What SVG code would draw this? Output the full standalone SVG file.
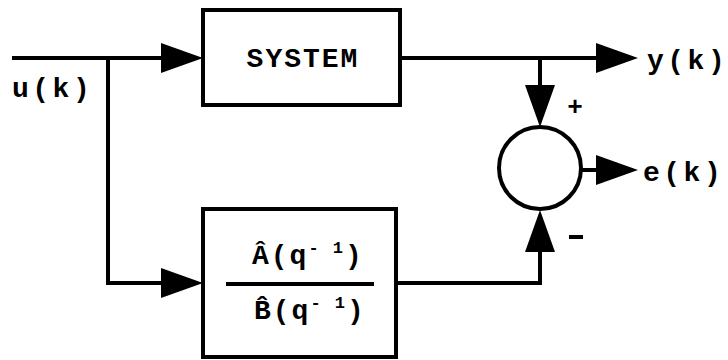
<svg xmlns="http://www.w3.org/2000/svg" width="728" height="360" viewBox="0 0 728 360">
  <style>
    .box { fill: #fff; stroke: #000; stroke-width: 4; }
    .wire { fill: none; stroke: #000; stroke-width: 4; stroke-linejoin: miter; }
    .lbl { font-family: "Liberation Mono", "DejaVu Sans Mono", monospace; font-weight: bold; font-size: 28px; letter-spacing: 2px; fill: #000; }
    .wide { letter-spacing: 3.5px; }
    .sup { font-size: 17px; }
    .sign { font-family: "Liberation Mono", "DejaVu Sans Mono", monospace; font-weight: bold; font-size: 26px; fill: #000; }
  </style>
  <defs>
    <marker id="arrow" markerUnits="userSpaceOnUse" markerWidth="42" markerHeight="30" refX="34" refY="15" orient="auto">
      <path d="M0,0 L42,15 L0,30 z" fill="#000"/>
    </marker>
  </defs>
  <rect width="728" height="360" fill="#fff"/>

  <g id="connectors">
    <!-- input u(k) into SYSTEM -->
    <path class="wire" d="M12,58 H195" marker-end="url(#arrow)"/>
    <!-- input branch into model -->
    <path class="wire" d="M108,58 V283 H195" marker-end="url(#arrow)"/>
    <!-- SYSTEM output y(k) -->
    <path class="wire" d="M400,58 H630" marker-end="url(#arrow)"/>
    <!-- y(k) into summing junction (+) -->
    <path class="wire" d="M540,58 V119" marker-end="url(#arrow)"/>
    <!-- model output into summing junction (-) -->
    <path class="wire" d="M396,283 H540 V218" marker-end="url(#arrow)"/>
    <!-- error output e(k) -->
    <path class="wire" d="M582,170 H630" marker-end="url(#arrow)"/>
  </g>

  <g id="system">
    <rect class="box" x="203" y="10" width="197" height="95"/>
    <text class="lbl" x="303" y="67" text-anchor="middle">SYSTEM</text>
  </g>

  <g id="model">
    <rect class="box" x="203" y="209" width="193" height="148"/>
    <text class="lbl" x="252" y="264">Â(q<tspan class="sup" dy="-11">- </tspan><tspan class="sup">1</tspan><tspan dy="11">)</tspan></text>
    <line x1="226" y1="284" x2="374" y2="284" stroke="#000" stroke-width="4"/>
    <text class="lbl" x="254" y="319">B̂(q<tspan class="sup" dy="-11">- </tspan><tspan class="sup">1</tspan><tspan dy="11">)</tspan></text>
  </g>

  <g id="sum">
    <circle class="box" cx="540" cy="168" r="41"/>
    <text class="sign" x="575" y="115" text-anchor="middle">+</text>
    <line x1="569" y1="237" x2="583" y2="237" stroke="#000" stroke-width="4"/>
  </g>

  <g id="labels">
    <text class="lbl wide" x="12" y="97">u(k)</text>
    <text class="lbl wide" x="647" y="69">y(k)</text>
    <text class="lbl wide" x="643" y="181">e(k)</text>
  </g>
</svg>
